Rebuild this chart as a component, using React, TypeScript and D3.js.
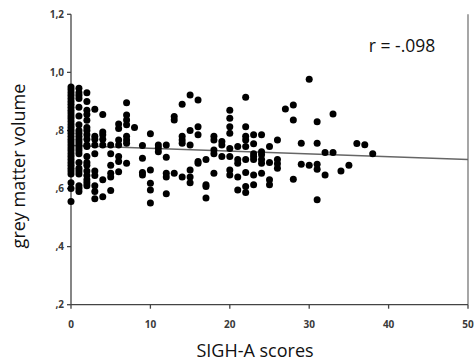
import React from "react";
import * as d3 from "d3";

const W = 474;
const H = 362;

// SIGH-A score columns and their grey matter volume values
const xCols: number[] = [0, 1, 2, 3, 4, 5, 6, 7, 8, 9, 10, 11, 12, 13, 14, 15, 16, 17, 18, 19, 20, 21, 22, 23, 24, 25, 26, 27, 28, 29, 30, 31, 32, 33, 34, 35, 36, 37, 38];
const yCols: number[][] = [
  [0.95, 0.94, 0.93, 0.92, 0.91, 0.9, 0.89, 0.88, 0.87, 0.86, 0.85, 0.84, 0.83, 0.82, 0.81, 0.8, 0.79, 0.78, 0.77, 0.76, 0.75, 0.74, 0.73, 0.72, 0.71, 0.7, 0.69, 0.68, 0.67, 0.66, 0.65, 0.62, 0.6, 0.555],
  [0.945, 0.93, 0.92, 0.91, 0.88, 0.85, 0.82, 0.8, 0.79, 0.78, 0.77, 0.76, 0.75, 0.74, 0.73, 0.72, 0.69, 0.67, 0.66, 0.65, 0.61, 0.6, 0.59],
  [0.93, 0.9, 0.87, 0.855, 0.835, 0.81, 0.8, 0.785, 0.77, 0.75, 0.745, 0.71, 0.69, 0.68, 0.66, 0.645, 0.63, 0.62, 0.61],
  [0.873, 0.78, 0.77, 0.75, 0.72, 0.66, 0.645, 0.61, 0.59, 0.565],
  [0.855, 0.795, 0.785, 0.77, 0.75, 0.63, 0.572],
  [0.75, 0.72, 0.68, 0.653, 0.64, 0.593],
  [0.822, 0.807, 0.767, 0.75, 0.71, 0.693, 0.658],
  [0.895, 0.853, 0.836, 0.82, 0.78, 0.767, 0.756, 0.687],
  [0.81],
  [0.748, 0.704, 0.655, 0.647],
  [0.789, 0.664, 0.618, 0.595, 0.55],
  [0.75, 0.74, 0.727],
  [0.75, 0.708, 0.653, 0.64, 0.582],
  [0.848, 0.836, 0.653],
  [0.89, 0.78, 0.767, 0.756, 0.64],
  [0.922, 0.8, 0.75, 0.664, 0.64, 0.62],
  [0.905, 0.813, 0.785, 0.693, 0.687],
  [0.7, 0.613, 0.607, 0.567],
  [0.78, 0.767, 0.733, 0.72, 0.653],
  [0.762, 0.75, 0.71],
  [0.87, 0.842, 0.813, 0.79, 0.738, 0.71, 0.664, 0.647],
  [0.745, 0.7, 0.687, 0.64, 0.595],
  [0.914, 0.813, 0.78, 0.767, 0.745, 0.7, 0.655, 0.607, 0.586],
  [0.785, 0.754, 0.72, 0.71, 0.7, 0.647, 0.613],
  [0.785, 0.727, 0.716, 0.7, 0.687, 0.653],
  [0.745, 0.69, 0.63, 0.613],
  [0.767, 0.7, 0.685, 0.67],
  [0.874],
  [0.888, 0.836, 0.632],
  [0.756, 0.684],
  [0.976, 0.68],
  [0.83, 0.756, 0.684, 0.666, 0.561],
  [0.724, 0.647],
  [0.857, 0.724],
  [0.66],
  [0.68],
  [0.755],
  [0.751],
  [0.72],
];

const fitX: number[] = [0, 50];
const fitY: number[] = [0.748, 0.7];

const xTicks: number[] = [0, 10, 20, 30, 40, 50];
const yTicks: number[] = [0.2, 0.4, 0.6, 0.8, 1.0, 1.2];
const yTickLabels: string[] = [",2", ",4", ",6", ",8", "1,0", "1,2"];

const xTitle = "SIGH-A scores";
const yTitle = "grey matter volume";
const rLabel = "r = -.098";

const FONT = "'Open Sans', 'DejaVu Sans', sans-serif";

export default function App() {
  const x = d3.scaleLinear().domain([0, 50]).range([71, 468]);
  const y = d3.scaleLinear().domain([0.2, 1.2]).range([304.7, 14.3]);

  const points: { x: number; y: number }[] = [];
  xCols.forEach((xv, i) => yCols[i].forEach((yv) => points.push({ x: xv, y: yv })));

  const line = d3
    .line<number>()
    .x((_, i) => x(fitX[i]))
    .y((d) => y(d));

  return (
    <svg
      width={W}
      height={H}
      style={{ position: "absolute", left: 0, top: 0, background: "#fff", fontFamily: FONT }}
    >
      {/* right border */}
      <line x1={x(50)} x2={x(50)} y1={y(1.2)} y2={y(0.2)} stroke="#777" strokeWidth={1.3} />
      {/* y axis */}
      <line x1={x(0)} x2={x(0)} y1={y(1.2)} y2={y(0.2)} stroke="#444" strokeWidth={1.3} />
      {yTicks.map((t, i) => (
        <g key={"yt" + i}>
          <line x1={x(0) - 4} x2={x(0)} y1={y(t)} y2={y(t)} stroke="#444" strokeWidth={1.3} />
          <text x={x(0) - 7} y={y(t) + 3.5} textAnchor="end" fontSize={10} fontWeight={700} fill="#3a3a3a" style={{ fontFamily: FONT }}>
            {yTickLabels[i]}
          </text>
        </g>
      ))}
      {/* x axis */}
      <line x1={x(0)} x2={x(50)} y1={y(0.2)} y2={y(0.2)} stroke="#444" strokeWidth={1.3} />
      {xTicks.map((t, i) => (
        <g key={"xt" + i}>
          <line x1={x(t)} x2={x(t)} y1={y(0.2)} y2={y(0.2) + 4} stroke="#444" strokeWidth={1.3} />
          <text x={x(t)} y={y(0.2) + 23} textAnchor="middle" fontSize={10} fontWeight={700} fill="#3a3a3a" style={{ fontFamily: FONT }}>
            {t}
          </text>
        </g>
      ))}
      {/* fit line */}
      <path d={line(fitY) || ""} fill="none" stroke="#666" strokeWidth={1.4} />
      {/* points */}
      {points.map((p, i) => (
        <circle key={"p" + i} cx={x(p.x)} cy={y(p.y)} r={3.5} fill="#000" />
      ))}
      {/* labels */}
      <text x={402} y={52} textAnchor="middle" fontSize={17.5} fill="#111" style={{ fontFamily: FONT }}>
        {rLabel}
      </text>
      <text x={255} y={357} textAnchor="middle" fontSize={18} fill="#111" style={{ fontFamily: FONT }}>
        {xTitle}
      </text>
      <text
        transform={`translate(25, ${166}) rotate(-90)`}
        textAnchor="middle"
        fontSize={18}
        fill="#111"
        style={{ fontFamily: FONT }}
      >
        {yTitle}
      </text>
    </svg>
  );
}
